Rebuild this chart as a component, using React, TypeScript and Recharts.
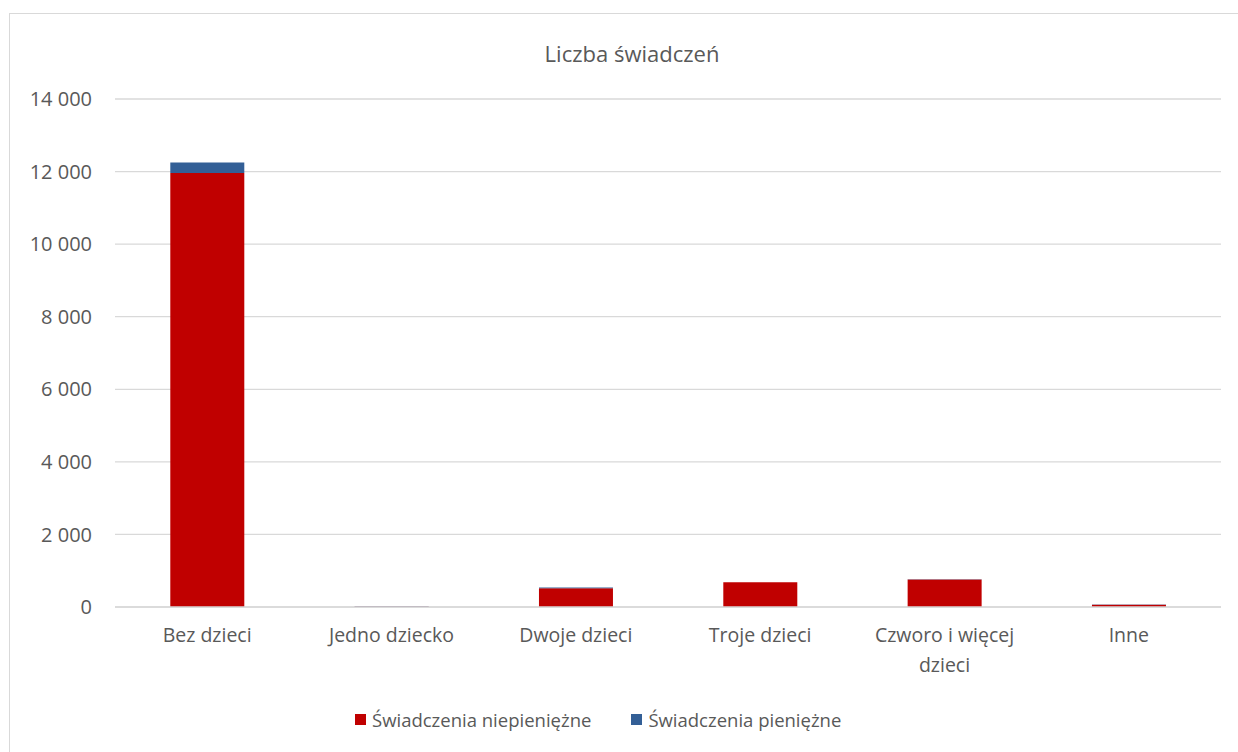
import React from "react";
import { BarChart, Bar, XAxis, YAxis, CartesianGrid, Text } from "recharts";

const categories = ["Bez dzieci", "Jedno dziecko", "Dwoje dzieci", "Troje dzieci", "Czworo i więcej dzieci", "Inne"];
const nonCash = [11960, 15, 520, 680, 760, 60];
const cash = [290, 10, 15, 0, 5, 10];
const yTicks = [0, 2000, 4000, 6000, 8000, 10000, 12000, 14000];
const seriesNames = ["Świadczenia niepieniężne", "Świadczenia pieniężne"];
const seriesColors = ["#C00000", "#335F96"];
const title = "Liczba świadczeń";

const data = categories.map((c, i) => ({ name: c, nonCash: nonCash[i], cash: cash[i] }));

const FONT = "'Open Sans', 'Liberation Sans', sans-serif";
const TXT = "#595959";

const fmt = (v: number) => {
  const s = String(v);
  return s.replace(/\B(?=(\d{3})+(?!\d))/g, " ");
};

const XTick = (props: any) => {
  const { x, y, payload } = props;
  return (
    <Text
      x={x}
      y={y + 21}
      width={160}
      textAnchor="middle"
      verticalAnchor="start"
      lineHeight={30}
      fill={TXT}
      fontSize={19.5}
      fontFamily={FONT}
      style={{ fontSize: 19.5, fontFamily: FONT }}
    >
      {payload.value}
    </Text>
  );
};

export default function App() {
  return (
    <div style={{ position: "fixed", left: 0, top: 0, width: 1238, height: 752, overflow: "hidden", background: "#fff" }}>
      <div
        style={{
          position: "absolute",
          left: 9,
          top: 13,
          width: 1260,
          height: 780,
          border: "1px solid #d9d9d9",
          boxSizing: "border-box",
        }}
      />
      <div
        style={{
          position: "absolute",
          left: 632,
          top: 38,
          transform: "translateX(-50%)",
          fontFamily: FONT,
          fontSize: 22,
          color: TXT,
          whiteSpace: "nowrap",
          lineHeight: "30px",
        }}
      >
        {title}
      </div>
      <div style={{ position: "absolute", left: 0, top: 0 }}>
        <BarChart
          width={1238}
          height={752}
          data={data}
          margin={{ top: 99, right: 17, left: 0, bottom: 85 }}
          barCategoryGap="30%"
        >
          <CartesianGrid vertical={false} stroke="#d9d9d9" strokeWidth={1.3} />
          <XAxis
            dataKey="name"
            interval={0}
            height={60}
            tickLine={false}
            tickSize={0}
            tickMargin={0}
            axisLine={{ stroke: "#d9d9d9", strokeWidth: 1.3 }}
            tick={<XTick />}
          />
          <YAxis
            width={115}
            domain={[0, 14000]}
            ticks={yTicks}
            interval={0}
            axisLine={false}
            tickLine={false}
            tickSize={0}
            tickMargin={23}
            tickFormatter={fmt}
            tick={{ fill: TXT, fontSize: 20, fontFamily: FONT }}
          />
          <Bar dataKey="nonCash" stackId="a" fill={seriesColors[0]} isAnimationActive={false} />
          <Bar dataKey="cash" stackId="a" fill={seriesColors[1]} isAnimationActive={false} />
        </BarChart>
      </div>
      <div
        style={{
          position: "absolute",
          left: 355,
          top: 707,
          display: "flex",
          alignItems: "center",
          fontFamily: FONT,
          fontSize: 18.5,
          color: TXT,
          whiteSpace: "nowrap",
        }}
      >
        {seriesNames.map((n, i) => (
          <div key={n} style={{ display: "flex", alignItems: "center", marginRight: 40 }}>
            <span style={{ display: "inline-block", width: 11, height: 11, background: seriesColors[i], marginRight: 6 }} />
            <span>{n}</span>
          </div>
        ))}
      </div>
    </div>
  );
}
